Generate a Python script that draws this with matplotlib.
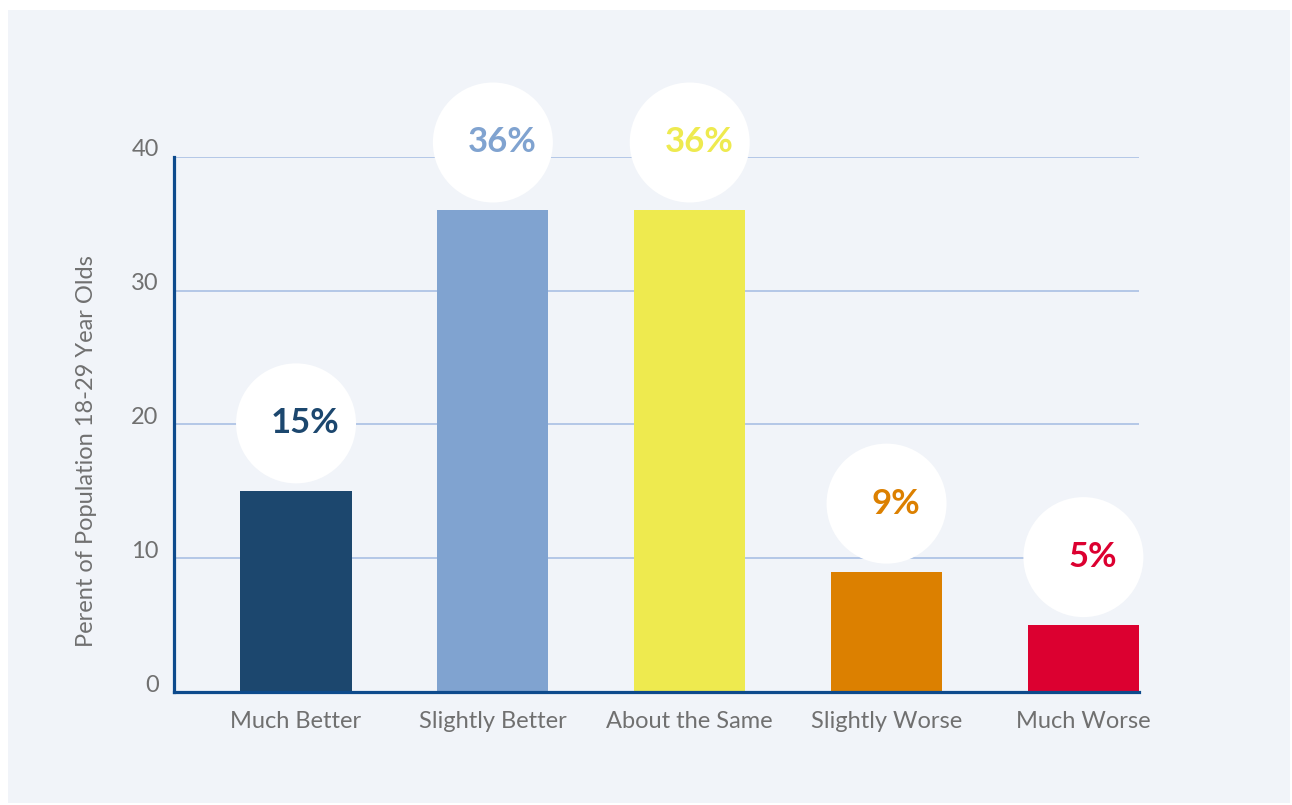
import matplotlib
matplotlib.use("Agg")
import matplotlib.pyplot as plt
from matplotlib.patches import Rectangle
from matplotlib.transforms import ScaledTranslation, offset_copy

# survey answers and shares (percent)
categories = ["Much Better", "Slightly Better", "About the Same", "Slightly Worse", "Much Worse"]
shares = [15, 36, 36, 9, 5]
bar_colors = ["#1c476e", "#80a3d0", "#eeea4f", "#dc8000", "#dc0030"]
yticks = [0, 10, 20, 30, 40]

plt.rcParams["font.family"] = ["Lato", "DejaVu Sans"]

fig = plt.figure(figsize=(12.92, 8.05), dpi=100)
fig.patch.set_facecolor("white")
# light panel behind the chart
fig.patches.append(Rectangle((8 / 1292, 2 / 805), 1282 / 1292, 793 / 805,
                             transform=fig.transFigure, facecolor="#f1f4f9",
                             edgecolor="none", zorder=-1))

ax = fig.add_axes([174 / 1292, 1 - 692 / 805, 965 / 1292, 535 / 805])
ax.set_facecolor("none")

x = list(range(len(categories)))
ax.bar(x, shares, width=0.565, color=bar_colors, zorder=3)

ax.set_xlim(-0.62, 4.2825)
ax.set_ylim(0, 40)
ax.set_yticks(yticks)
ax.set_xticks(x)
ax.set_xticklabels(categories)

ax.grid(axis="y", color="#a9c0e4", linewidth=1.2, zorder=1)
ax.set_axisbelow(True)
for side in ["top", "right"]:
    ax.spines[side].set_visible(False)
for side in ["left", "bottom"]:
    ax.spines[side].set_color("#0d4a8c")
    ax.spines[side].set_linewidth(2.3)
    ax.spines[side].set_zorder(4)

ax.tick_params(axis="both", length=0, colors="#707070")
ax.tick_params(axis="y", labelsize=17, pad=11)
ax.tick_params(axis="x", labelsize=17, pad=14)
for lab in ax.get_yticklabels():
    lab.set_transform(lab.get_transform() + ScaledTranslation(0, 9 / 100, fig.dpi_scale_trans))

ax.set_ylabel("Perent of Population 18-29 Year Olds", fontsize=17, color="#707070")
ax.yaxis.set_label_coords(-0.08, 0.45)

# white bubbles with the value above each bar
bubble_tr = offset_copy(ax.transData, fig=fig, x=0, y=68, units="dots")
ax.scatter(x, shares, s=7465, color="white", edgecolors="none",
           transform=bubble_tr, clip_on=False, zorder=5)
for xi, v, c in zip(x, shares, bar_colors):
    ax.annotate(f"{v}%", xy=(xi, v), xytext=(6.5, 49), textcoords="offset points",
                ha="center", va="center", fontsize=25, fontweight="bold",
                color=c, zorder=6, annotation_clip=False)

fig.savefig("out.png", dpi=100)
